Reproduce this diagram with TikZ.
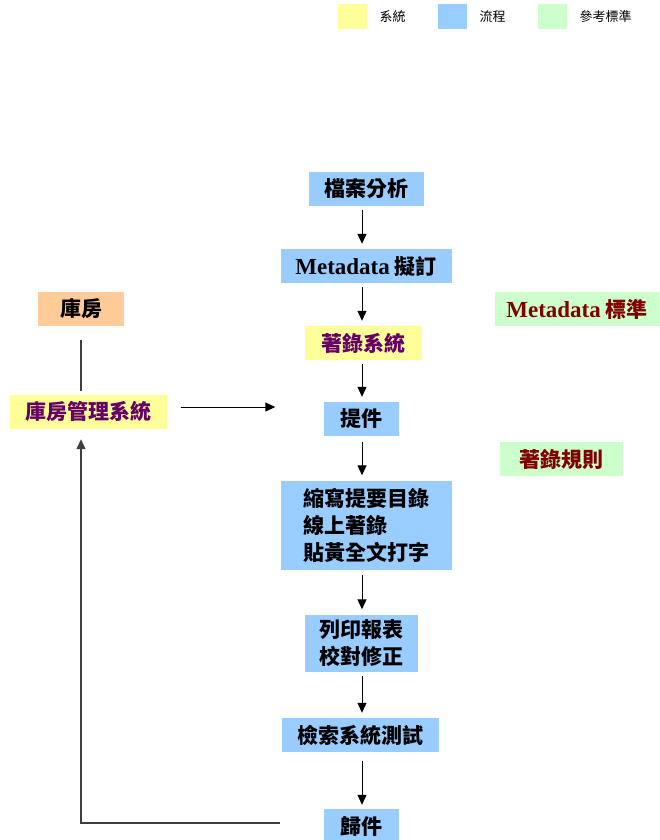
\documentclass[tikz,border=0pt]{standalone}
\usepackage{fontspec}
\newfontfamily\cjk{Noto Sans CJK TC}
\newfontfamily\latin{Liberation Serif}
\usetikzlibrary{arrows.meta}

\definecolor{sysyellow}{HTML}{FFFF99}
\definecolor{flowblue}{HTML}{99CCFF}
\definecolor{stdgreen}{HTML}{CCFFCC}
\definecolor{storeorange}{HTML}{FFCC99}
\definecolor{sysviolet}{HTML}{660066}
\definecolor{stdred}{HTML}{800000}

\tikzset{
  box/.style={inner sep=0pt, minimum height=34pt, font=\cjk\bfseries\fontsize{21}{27}\selectfont},
  sysbox/.style={box, fill=sysyellow, text=sysviolet},
  flowbox/.style={box, fill=flowblue},
  stdbox/.style={box, fill=stdgreen, text=stdred},
  storebox/.style={box, fill=storeorange},
  keybox/.style={inner sep=0pt, minimum width=29pt, minimum height=25pt},
  keytext/.style={font=\cjk\fontsize{13}{15}\selectfont},
  arr/.style={-{Triangle[length=10pt,width=9pt]}, line width=1pt},
  line/.style={line width=1.2pt, draw=black!75}
}
\newcommand{\mdword}{{\latin\bfseries\fontsize{23}{27}\selectfont Metadata}}

\begin{document}
\begin{tikzpicture}[x=1pt, y=-1pt]
  \useasboundingbox[fill=white] (0,0) rectangle (660,840);

  % legend
  \node[keybox, fill=sysyellow] (keysys) at (352,17) {};
  \node[keytext, anchor=west] (keysyst) at (376,17) {系統};
  \node[keybox, fill=flowblue] (keyflow) at (452,17) {};
  \node[keytext, anchor=west] (keyflowt) at (476,17) {流程};
  \node[keybox, fill=stdgreen] (keystd) at (552,17) {};
  \node[keytext, anchor=west] (keystdt) at (576,17) {參考標準};

  % main flow
  \coordinate (axis) at (362,0);
  \node[flowbox, minimum width=115] (fenxi) at (366,189) {檔案分析};
  \node[flowbox, minimum width=171] (nidin) at (366,266) {\mdword\ 擬訂};
  \node[sysbox, minimum width=117] (zhulu) at (363,343) {著錄系統};
  \node[flowbox, minimum width=75] (tijian) at (361,419) {提件};
  \node[flowbox, minimum width=171, minimum height=89, align=left] (bianxie) at (366,525)
    {縮寫提要目錄\\線上著錄\\貼黃全文打字};
  \node[flowbox, minimum width=113, minimum height=57, align=left] (liein) at (361,643)
    {列印報表\\校對修正};
  \node[flowbox, minimum width=157] (ceshi) at (360,735) {檢索系統測試};
  \node[flowbox, minimum width=75] (guijian) at (361,826) {歸件};

  % storage side
  \node[storebox, minimum width=86] (kufang) at (81,309) {庫房};
  \node[sysbox, minimum width=157] (kufangsys) at (88,412) {庫房管理系統};

  % references
  \node[stdbox, minimum width=165] (mdstd) at (577,309) {\mdword\ 標準};
  \node[stdbox, minimum width=123] (zhulugz) at (561,459) {著錄規則};

  \draw[arr, shorten <=4pt, shorten >=5pt] (fenxi.south -| axis) -- (nidin.north -| axis);
  \draw[arr, shorten <=4pt, shorten >=5pt] (nidin.south -| axis) -- (zhulu.north -| axis);
  \draw[arr, shorten <=4pt, shorten >=5pt] (zhulu.south -| axis) -- (tijian.north -| axis);
  \draw[arr, shorten <=6pt, shorten >=5pt] (tijian.south -| axis) -- (bianxie.north -| axis);
  \draw[arr, shorten <=5pt, shorten >=5pt] (bianxie.south -| axis) -- (liein.north -| axis);
  \draw[arr, shorten <=4pt, shorten >=5pt] (liein.south -| axis) -- (ceshi.north -| axis);
  \draw[arr, shorten <=9pt, shorten >=4pt] (ceshi.south -| axis) -- (guijian.north -| axis);

  \draw[line, shorten <=14pt, shorten >=4pt] (kufang.south) -- (kufang.south |- kufangsys.north);
  \draw[arr, shorten <=14pt, shorten >=48pt] ([yshift=5]kufangsys.east) -- ([yshift=5]kufangsys.east -| tijian.west);
  \draw[line, -{Triangle[length=10pt,width=9pt]}, shorten <=43pt, shorten >=10pt]
    ([yshift=3]guijian.west) -| (kufang.south |- kufangsys.south);
\end{tikzpicture}
\end{document}
